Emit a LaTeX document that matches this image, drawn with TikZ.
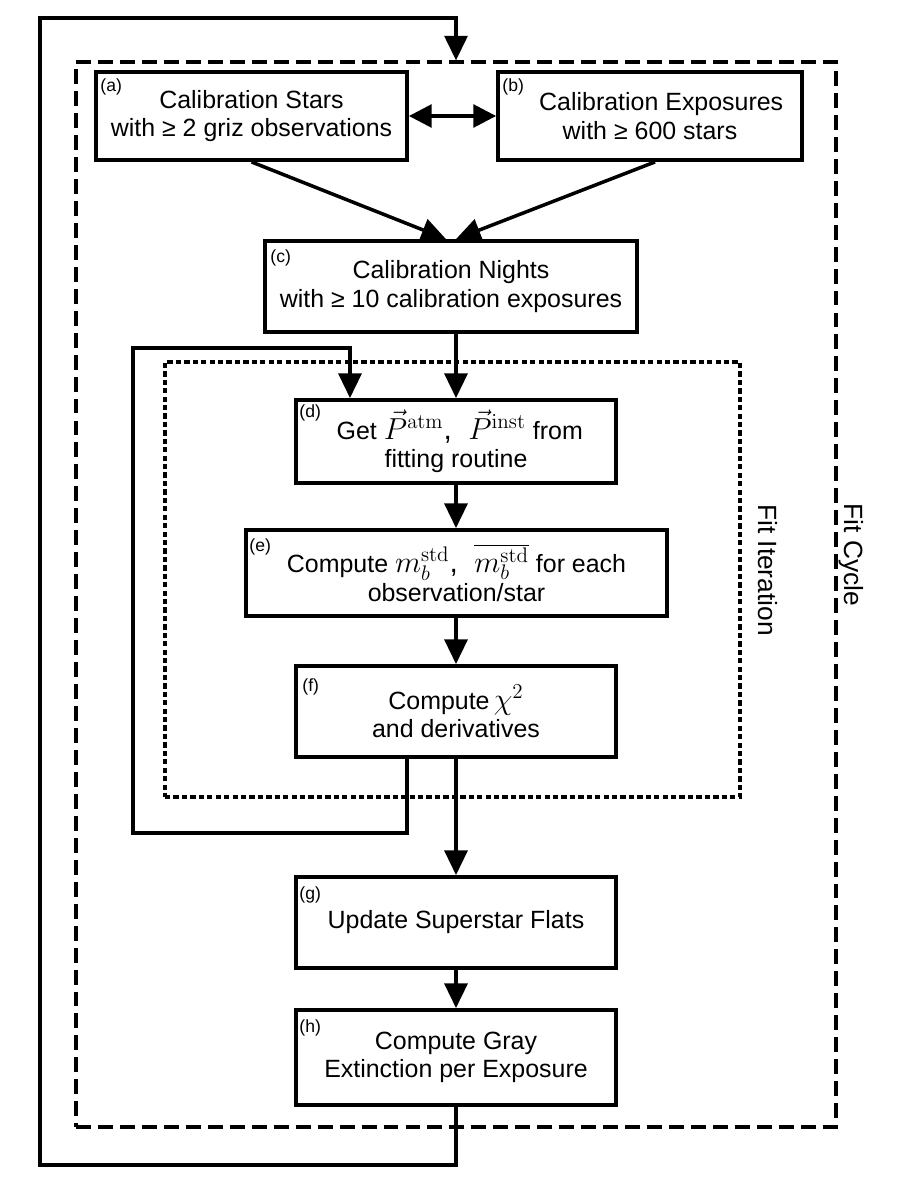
\documentclass[tikz,border=0pt]{standalone}
\usepackage[no-math]{fontspec}
\setmainfont{Liberation Sans}
\usetikzlibrary{arrows.meta}
\newcommand{\bigmath}[1]{{\fontsize{17}{17}\selectfont #1}}
\begin{document}
\begin{tikzpicture}[x=0.02cm,y=-0.02cm,
  box/.style={draw,line width=2.2pt,rectangle,align=center,inner sep=0pt,font=\fontsize{14.2}{16.2}\selectfont},
  tag/.style={anchor=north west,inner sep=0pt,font=\fontsize{10}{11}\selectfont},
  conn/.style={line width=2pt},
  arr/.style={conn,-{Triangle[length=14pt,width=13pt]}},
  dblarr/.style={conn,{Triangle[length=13pt,width=13pt]}-{Triangle[length=13pt,width=13pt]}},
  cyclebox/.style={draw,line width=1.9pt,dash pattern=on 8.5pt off 4pt,inner sep=0pt},
  iterbox/.style={draw,line width=2pt,dash pattern=on 3pt off 1.8pt,inner sep=0pt},
  sidelabel/.style={rotate=-90,inner sep=0pt,font=\fontsize{15}{18}\selectfont}
]
\useasboundingbox (0,0) rectangle (900,1200);

% enclosing loops
\node[cyclebox,minimum width=15.2cm,minimum height=21.3cm] (cycle) at (456,594.5) {};
\node[iterbox,minimum width=11.5cm,minimum height=8.7cm] (iter) at (452.5,579.5) {};
\node[sidelabel] (itlab) at (768,570) {Fit Iteration};
\node[sidelabel] (cylab) at (851,555) {Fit Cycle};

% boxes
\node[box,minimum width=6.22cm,minimum height=1.76cm] (a) at (251.5,116)
  {Calibration Stars\\with ≥ 2 griz observations};
\node[box,minimum width=6.08cm,minimum height=1.76cm] (b) at (650,116)
  {\hspace*{0.45cm}Calibration Exposures\\with ≥ 600 stars};
\node[box,minimum width=7.44cm,minimum height=1.82cm] (c) at (451,286.5)
  {Calibration Nights\\with ≥ 10 calibration exposures};
\node[box,minimum width=6.4cm,minimum height=1.66cm] (d) at (456,441.5)
  {\hspace*{0.15cm}Get \bigmath{$\vec{P}^{\mathrm{atm}}$,\ \ $\vec{P}^{\mathrm{inst}}$} from\\fitting routine};
\node[box,minimum width=8.42cm,minimum height=1.72cm] (e) at (456.5,573)
  {Compute \bigmath{$m_b^{\mathrm{std}}$,\ \ $\overline{m_b^{\mathrm{std}}}$} for each\\observation/star};
\node[box,minimum width=6.4cm,minimum height=1.82cm] (f) at (456,711.5)
  {Compute\,\bigmath{$\chi^{2}$}\\and derivatives};
\node[box,minimum width=6.4cm,minimum height=1.82cm] (g) at (456,922.5)
  {Update Superstar Flats};
\node[box,minimum width=6.4cm,minimum height=1.9cm] (h) at (456,1057.5)
  {Compute Gray\\Extinction per Exposure};

% tags
\node[tag] (ta) at ([xshift=0.12cm,yshift=-0.16cm]a.north west) {(a)};
\node[tag] (tb) at ([xshift=0.12cm,yshift=-0.16cm]b.north west) {(b)};
\node[tag] (tc) at ([xshift=0.14cm,yshift=-0.2cm]c.north west) {(c)};
\node[tag] (td) at ([xshift=0.1cm,yshift=-0.12cm]d.north west) {(d)};
\node[tag] (te) at ([xshift=0.1cm,yshift=-0.2cm]e.north west) {(e)};
\node[tag] (tf) at ([xshift=0.16cm,yshift=-0.28cm]f.north west) {(f)};
\node[tag] (tg) at ([xshift=0.1cm,yshift=-0.22cm]g.north west) {(g)};
\node[tag] (th) at ([xshift=0.1cm,yshift=-0.22cm]h.north west) {(h)};

% helper coordinates
\coordinate (lx) at (407,0);
\coordinate (rx) at (350,0);
\coordinate (mx) at (456,0);
\coordinate (il1) at (407,833);
\coordinate (il2) at (133,348);
\coordinate (ol1) at (456,1165);
\coordinate (ol2) at (40,18);

% connectors
\draw[dblarr] (a.east) -- (b.west);
\draw[arr] (a.south) -- ([xshift=-0.1cm]c.north);
\draw[arr] ([xshift=0.1cm]b.south) -- ([xshift=0.1cm]c.north);
\draw[arr] (c.south -| mx) -- (d.north -| mx);
\draw[arr] (d.south -| mx) -- (e.north -| mx);
\draw[arr] (e.south -| mx) -- (f.north -| mx);
\draw[arr] (f.south) -- (g.north);
\draw[arr] (g.south) -- (h.north);
\draw[arr] (f.south -| lx) -- (il1) -| (il2) -| (d.north -| rx);
\draw[arr] (h.south) -- (ol1) -| (ol2) -| (cycle.north);
\end{tikzpicture}
\end{document}
